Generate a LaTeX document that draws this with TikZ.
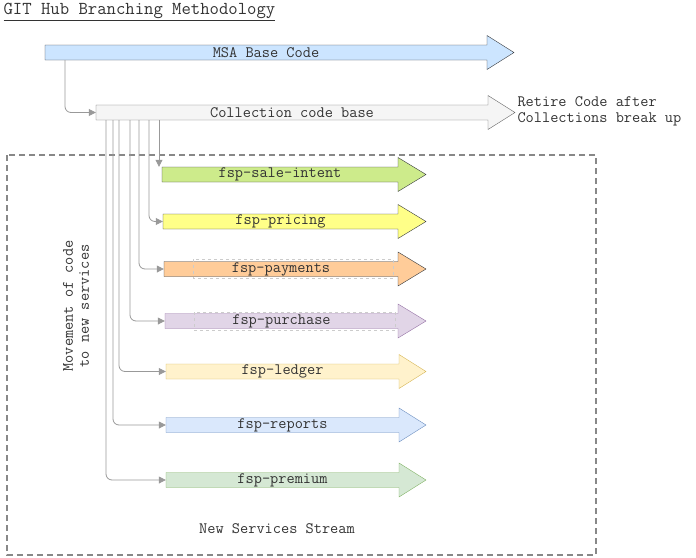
\documentclass[tikz,border=0pt]{standalone}
\usetikzlibrary{arrows.meta}

\definecolor{txt}{HTML}{333333}
\definecolor{edge}{HTML}{36393D}
\definecolor{linkgray}{HTML}{999999}
\definecolor{boxgray}{HTML}{888888}
\definecolor{msafill}{HTML}{CCE5FF}
\definecolor{colfill}{HTML}{F5F5F5}
\definecolor{colline}{HTML}{666666}
\definecolor{salefill}{HTML}{CDEB8B}
\definecolor{pricefill}{HTML}{FFFF88}
\definecolor{payfill}{HTML}{FFCC99}
\definecolor{purfill}{HTML}{E1D5E7}
\definecolor{purline}{HTML}{9673A6}
\definecolor{ledfill}{HTML}{FFF2CC}
\definecolor{ledline}{HTML}{D6B656}
\definecolor{repfill}{HTML}{DAE8FC}
\definecolor{repline}{HTML}{6C8EBF}
\definecolor{premfill}{HTML}{D5E8D4}
\definecolor{premline}{HTML}{82B366}

% name, left x, head x, tip x, mid y, fill, stroke, text
\newcommand{\branch}[8]{%
  \draw[draw=#7,fill=#6] (#2,#5-7.5) -- (#3,#5-7.5) -- (#3,#5-17) -- (#4,#5)
    -- (#3,#5+17) -- (#3,#5+7.5) -- (#2,#5+7.5) -- cycle;
  \node[shaft,minimum width={(#3-#2)*1pt}] (#1) at ({(#2+#3)/2},#5) {#8};}

\begin{document}
\begin{tikzpicture}[x=1pt,y=-1pt,
    mono/.style={font=\ttfamily\fontsize{15.9}{16}\selectfont,text=txt},
    shaft/.style={mono,inner sep=0pt,minimum height=15pt},
    conn/.style={draw=linkgray,line width=0.8pt,rounded corners=6pt,
      -{Triangle[length=7pt,width=7pt]}}]
  \useasboundingbox (0,0) rectangle (696,557);

  \node[mono,font=\ttfamily\fontsize{18.2}{20}\selectfont,anchor=west] (title) at (0,12)
    {\underline{GIT Hub Branching Methodology}};

  \branch{msa}{45}{487}{514}{52.5}{msafill}{edge}{MSA Base Code}
  \branch{col}{96}{488}{515}{112.5}{colfill}{colline}{Collection code base}
  \node[mono,anchor=west,align=left] (retire) at (514,111.5)
    {Retire Code after\\Collections break up};

  % new services stream
  \draw[draw=boxgray,line width=1.3pt,dash pattern=on 6pt off 4pt] (7,155) rectangle (596,555);
  \node[mono] (stream) at (277,529) {New Services Stream};
  \node[mono,rotate=90,align=center] (move) at (76,306)
    {Movement of code\\to new services};

  \branch{sale}{162}{398}{426}{174.5}{salefill}{edge}{fsp-sale-intent}
  \branch{pricing}{163}{398}{426}{221.5}{pricefill}{edge}{fsp-pricing}
  \branch{payments}{164}{398}{426}{269}{payfill}{edge}{fsp-payments}
  \branch{purchase}{165}{398}{426}{321}{purfill}{purline}{fsp-purchase}
  \branch{ledger}{166}{399}{426}{371.5}{ledfill}{ledline}{fsp-ledger}
  \branch{reports}{166}{399}{426}{425}{repfill}{repline}{fsp-reports}
  \branch{premium}{166}{399}{426}{480}{premfill}{premline}{fsp-premium}

  \draw[black!20,dashed,line width=0.5pt] (193,259) rectangle (393,278);
  \draw[black!20,dashed,line width=0.5pt] (194,312) rectangle (395,330);

  % links
  \draw[conn] (65,0 |- msa.south) |- (col.west);
  \draw[conn] (159,0 |- col.south) -- (159,0 |- sale.north);
  \foreach \x/\b in {149/pricing,139/payments,130/purchase,119/ledger,113/reports,106/premium}
    \draw[conn] (\x,0 |- col.south) |- (\b.west);
\end{tikzpicture}
\end{document}
